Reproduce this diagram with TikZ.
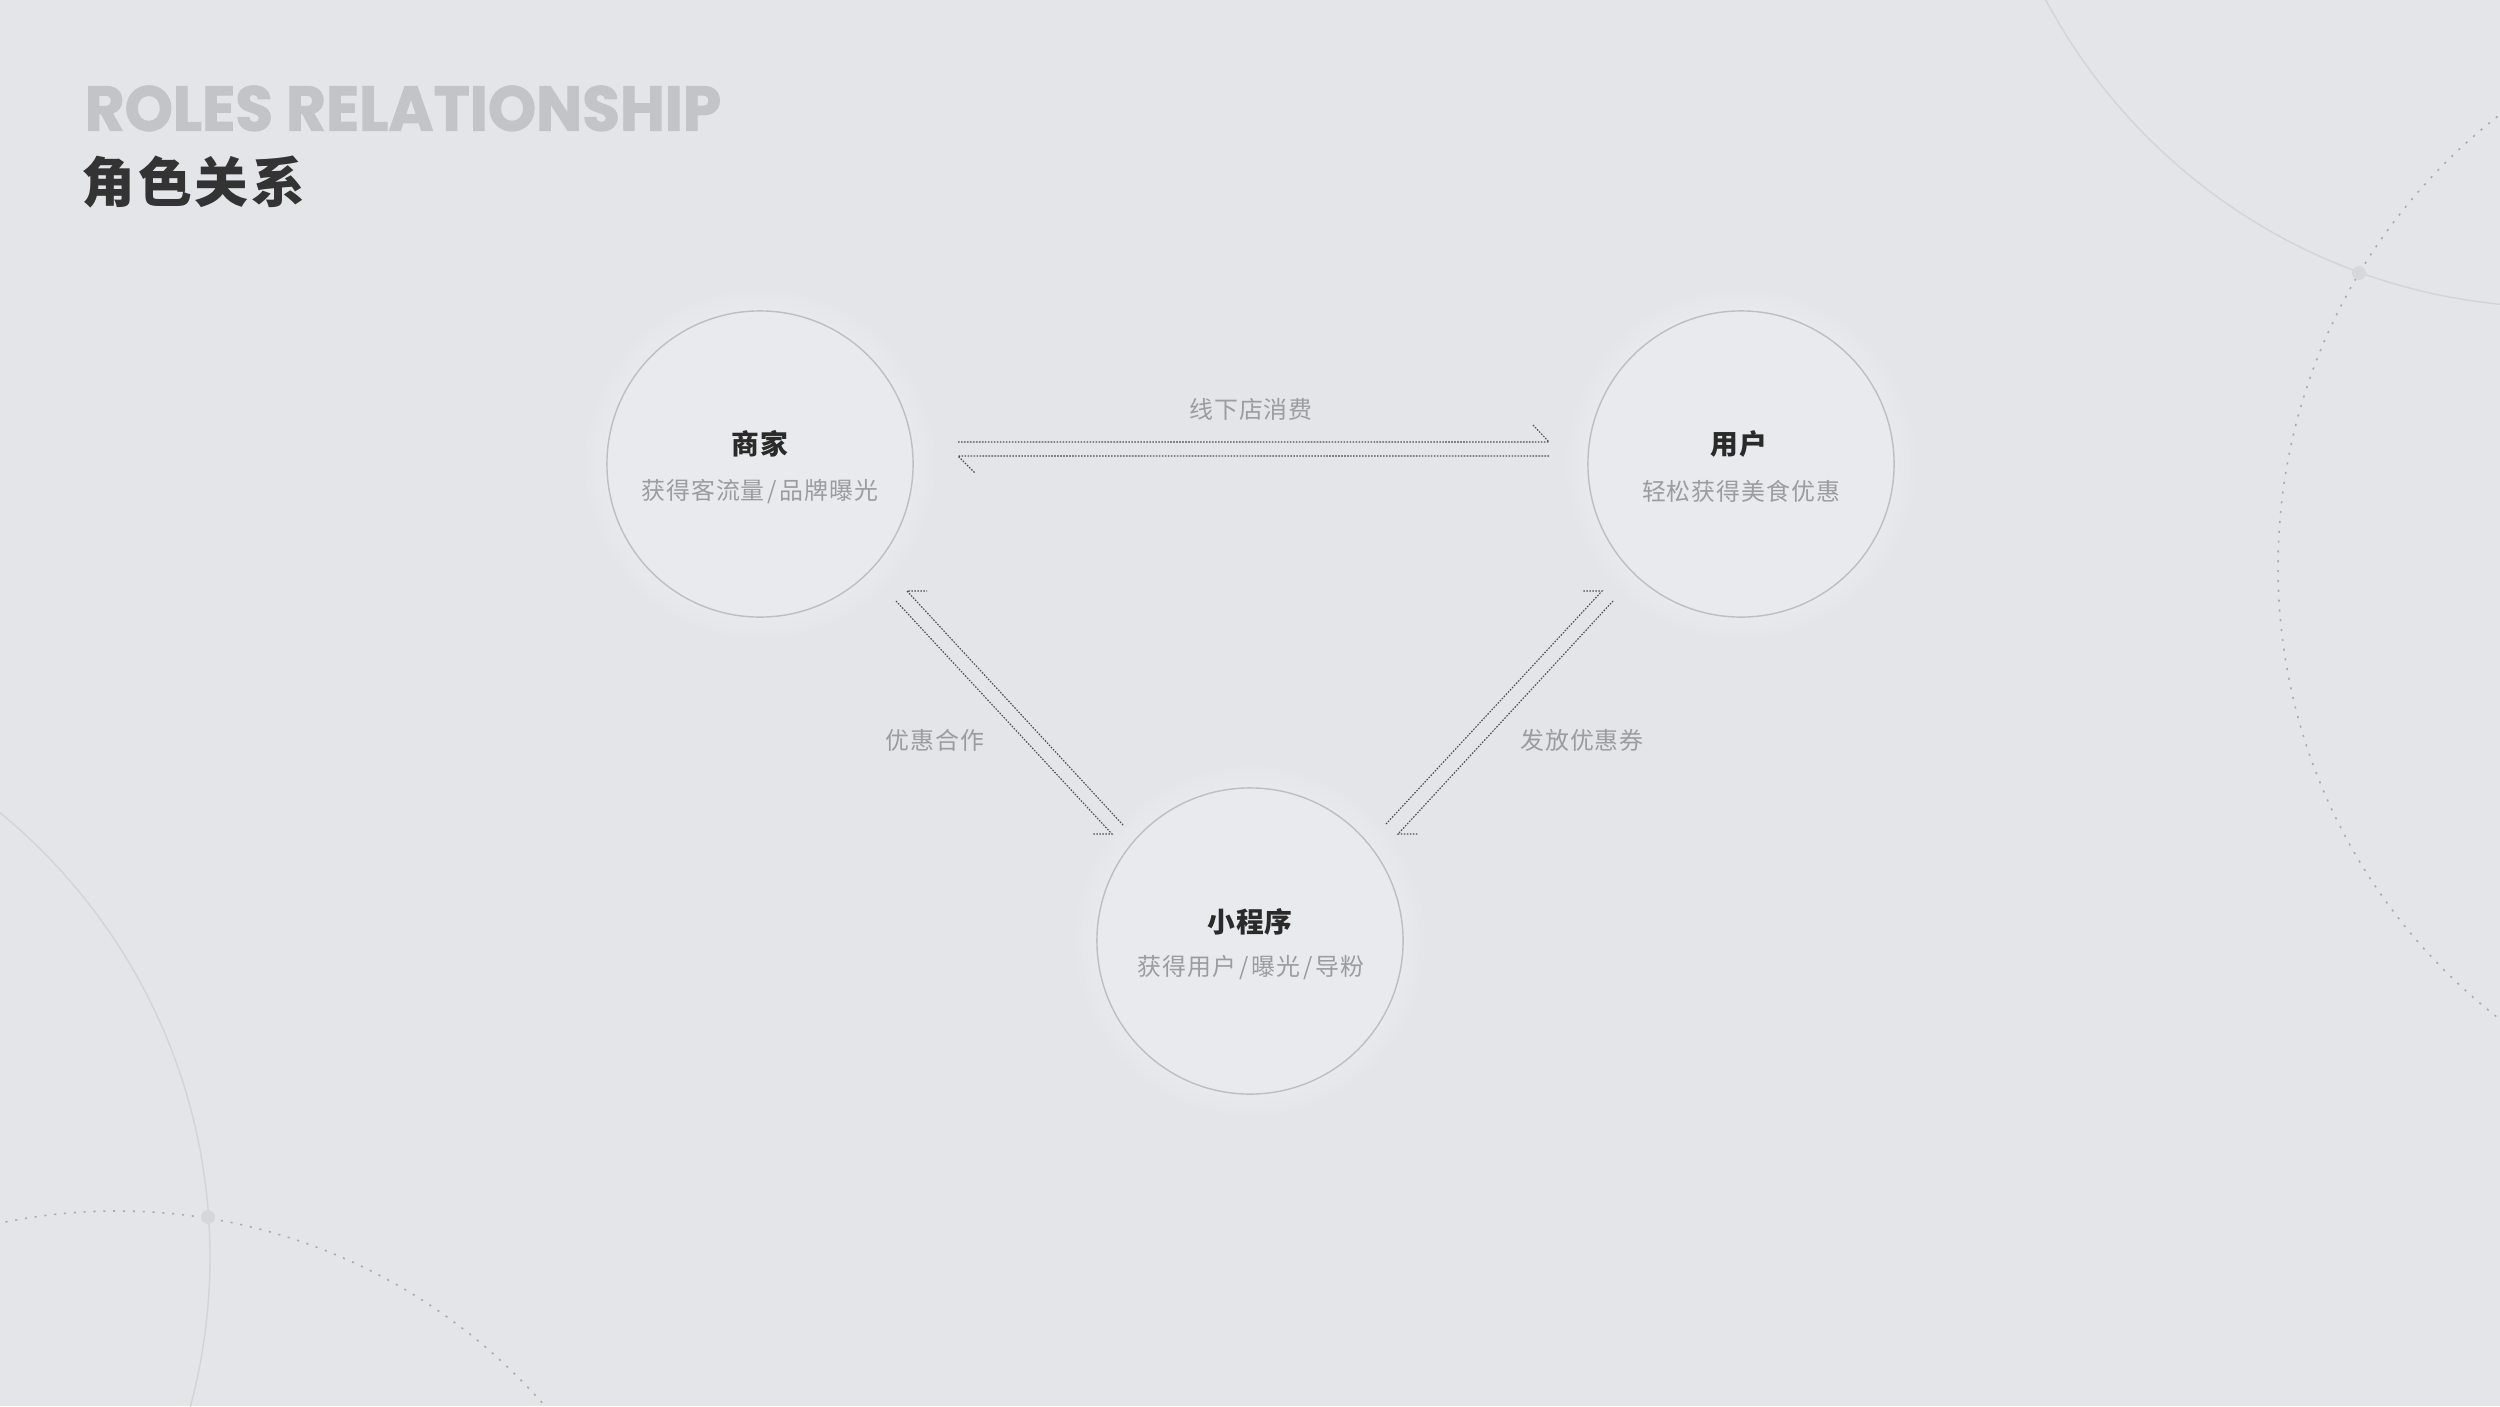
\documentclass[tikz,border=0pt]{standalone}
\usepackage{graphicx}
\usepackage{fontspec}
\newfontfamily\cjk{Noto Sans CJK SC}[LetterSpace=4]
\newfontfamily\cjkt{Noto Sans CJK SC}[LetterSpace=5]
\newfontfamily\titlefont{Poppins}[FakeBold=1.6]
\usetikzlibrary{calc}
\definecolor{bgc}{HTML}{E4E5E9}
\definecolor{circfill}{HTML}{E9EAED}
\definecolor{circstroke}{HTML}{BDBEC2}
\definecolor{titlegray}{HTML}{C3C4C8}
\definecolor{headc}{HTML}{333333}
\definecolor{mainc}{HTML}{2A2A2A}
\definecolor{subc}{HTML}{9C9CA0}
\definecolor{arrowc}{HTML}{4E4E52}
\definecolor{decosol}{HTML}{D3D4D8}
\definecolor{decodsh}{HTML}{A9AAAE}
\definecolor{dotc}{HTML}{D6D7DB}
\tikzset{
  role/.style={circle, draw=circstroke, line width=0.4pt, fill=circfill, minimum size=3.06cm, inner sep=0pt},
  rolename/.style={inner sep=0pt, text=mainc, font=\cjk\bfseries\fontsize{7.9pt}{9pt}\selectfont},
  rolesub/.style={inner sep=0pt, text=subc, font=\cjk\fontsize{6.8pt}{8pt}\selectfont},
  flowlabel/.style={inner sep=0pt, text=subc, font=\cjk\fontsize{6.8pt}{8pt}\selectfont},
  flow/.style={draw=arrowc, line width=0.32pt, dash pattern=on 0.45pt off 0.4pt, line join=miter},
  decosolid/.style={draw=decosol, line width=0.4pt},
  decodash/.style={draw=decodsh, line width=0.45pt, dash pattern=on 0.6pt off 2.2pt},
  halo/.style={fill=white, fill opacity=0.06, draw=none}
}
\newcommand{\slsep}{\hspace{0.12em}/\hspace{0.12em}}
\begin{document}
\begin{tikzpicture}[x=0.01cm,y=-0.01cm]
\fill[bgc] (0,0) rectangle (2500,1406);
\useasboundingbox (0,0) rectangle (2500,1406);

% decorative background circles
\begin{scope}
\clip (0,0) rectangle (2500,1406);
\draw[decosolid] (2557,-272) circle[radius=579];
\draw[decodash] (2850,567) circle[radius=572];
\draw[decosolid] (-365,1257) circle[radius=575];
\draw[decodash] (117,1778) circle[radius=567];
\fill[dotc] (2359,273) circle[radius=7];
\fill[dotc] (208,1217) circle[radius=7];
\end{scope}

% title
\node[anchor=north west, inner sep=0pt, text=titlegray] (title) at (84,85)
  {\resizebox{6.36cm}{0.45cm}{\titlefont\bfseries ROLES RELATIONSHIP}};
\node[anchor=west, inner sep=0pt, text=headc, font=\cjkt\bfseries\fontsize{15.3pt}{17pt}\selectfont] (head) at (81,182) {角色关系};

% halos
\foreach \cx/\cy in {760/464, 1741/464, 1250/941}{
  \foreach \rr in {157,163,169,175}{
    \fill[halo] (\cx,\cy) circle[radius=\rr];
  }
}

% role circles
\node[role] (shang) at (760,464) {};
\node[role] (yong) at (1741,464) {};
\node[role] (xiao) at (1250,941) {};

\node[rolename] (shangT) at (760,444) {商家};
\node[rolesub] (shangS) at (760,491) {获得客流量\slsep 品牌曝光};
\node[rolename] (yongT) at (1739,444) {用户};
\node[rolesub] (yongS) at (1741,491) {轻松获得美食优惠};
\node[rolename] (xiaoT) at (1250,922) {小程序};
\node[rolesub] (xiaoS) at (1251,968) {获得用户\slsep 曝光\slsep 导粉};

% connector end points
\coordinate (h1s) at (958,442);
\coordinate (h1e) at (1549,442);
\coordinate (h1b) at (1533,425);
\coordinate (h2s) at (1549,456);
\coordinate (h2e) at (958,456);
\coordinate (h2b) at (975,473);

\coordinate (as) at (1123,825);
\coordinate (ae) at (907,591);
\coordinate (ab) at (927,591);
\coordinate (bs) at (896,601);
\coordinate (be) at (1112,834);
\coordinate (bb) at (1092,834);

\coordinate (cs) at (1386,824);
\coordinate (ce) at (1602,591);
\coordinate (cb) at (1582,591);
\coordinate (ds) at (1613,601);
\coordinate (de) at (1398,834);
\coordinate (db) at (1418,834);

% connectors (half-arrow harpoons)
\draw[flow] (h1s) -- (h1e) -- (h1b);
\draw[flow] (h2s) -- (h2e) -- (h2b);
\draw[flow] (as) -- (ae) -- (ab);
\draw[flow] (bs) -- (be) -- (bb);
\draw[flow] (cs) -- (ce) -- (cb);
\draw[flow] (ds) -- (de) -- (db);

% connector labels
\node[flowlabel] (lh) at (1251,409) {线下店消费};
\node[flowlabel] (ll) at (935,740) {优惠合作};
\node[flowlabel] (lr) at (1582,740) {发放优惠券};
\end{tikzpicture}
\end{document}
